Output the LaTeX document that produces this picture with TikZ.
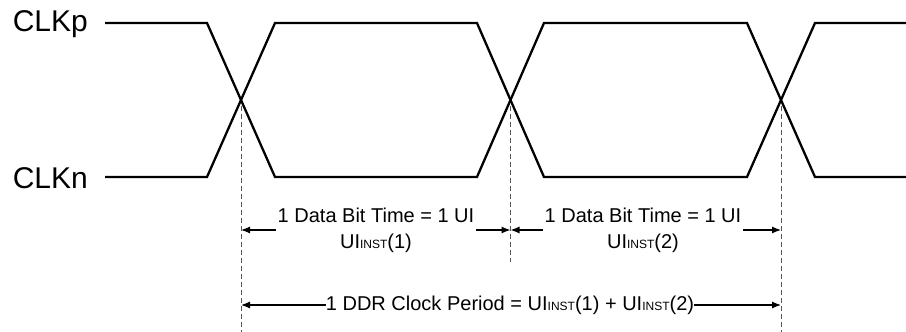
\documentclass[tikz,border=0pt]{standalone}
\usepackage{fontspec}
\setmainfont{Liberation Sans}
\usetikzlibrary{arrows.meta}
\newcommand{\uiinst}{UI{\fontsize{12}{12}\selectfont\raisebox{-0.5pt}{INST}}}
\tikzset{
  sig/.style={line width=2.3pt, line join=miter, black},
  guide/.style={gray!70!black, line width=0.7pt, dash pattern=on 5pt off 3pt},
  dim/.style={line width=1.2pt, -{Latex[length=9pt,width=7pt]}},
  lbl/.style={font=\fontsize{30}{31}\selectfont, inner sep=0pt},
  txt/.style={font=\fontsize{20}{22}\selectfont, inner sep=0pt, align=center},
}
\begin{document}
\begin{tikzpicture}[x=1pt,y=-1pt]
\useasboundingbox (0,0) rectangle (906,332);
% labels
\node[lbl, anchor=east] (clkp) at (88,24) {CLKp};
\node[lbl, anchor=east] (clkn) at (88,178) {CLKn};
% waveforms
\draw[sig] (105,23) -- (207,23) -- (275,177) -- (477,177) -- (544,23) -- (747,23) -- (815,177) -- (906,177);
\draw[sig] (105,177) -- (207,177) -- (275,23) -- (477,23) -- (544,177) -- (747,177) -- (815,23) -- (906,23);
% crossing guides
\coordinate (x1) at (241,100);
\coordinate (x2) at (510.5,100);
\coordinate (x3) at (781,100);
\draw[guide] (241,106) -- (241,332);
\draw[guide] (510.5,106) -- (510.5,262);
\draw[guide] (781,106) -- (781,332);
% UI 1
\node[txt] (t1) at (376,215) {1 Data Bit Time = 1 UI};
\node[txt] (u1) at (376,243) {\uiinst(1)};
\coordinate (a1l) at (241,230);
\coordinate (a1r) at (510.5,230);
\draw[dim] (t1.south west |- a1l) ++(-2,0) -- (a1l);
\draw[dim] (t1.south east |- a1r) ++(2,0) -- (a1r);
% UI 2
\node[txt] (t2) at (643,215) {1 Data Bit Time = 1 UI};
\node[txt] (u2) at (643,243) {\uiinst(2)};
\coordinate (a2l) at (510.5,230);
\coordinate (a2r) at (781,230);
\draw[dim] (t2.south west |- a2l) ++(-2,0) -- (a2l);
\draw[dim] (t2.south east |- a2r) ++(2,0) -- (a2r);
% clock period
\node[txt] (t3) at (510,305) {1 DDR Clock Period = \uiinst(1) + \uiinst(2)};
\coordinate (a3l) at (241,305);
\coordinate (a3r) at (781,305);
\draw[dim] (t3.west |- a3l) -- (a3l);
\draw[dim] (t3.east |- a3r) -- (a3r);
\end{tikzpicture}
\end{document}
